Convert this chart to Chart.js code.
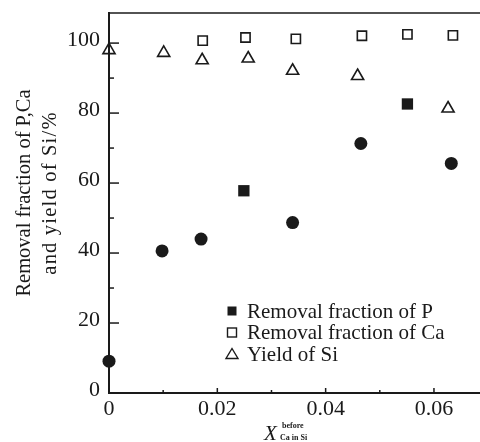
<!DOCTYPE html>
<html>
<head>
<meta charset="utf-8">
<script src="https://cdn.jsdelivr.net/npm/chart.js@4/dist/chart.umd.min.js"></script>
<style>
  html, body { margin: 0; padding: 0; background: #fff; }
  #wrap { width: 480px; height: 442px; }
</style>
</head>
<body>
<div id="wrap"><canvas id="goo" width="480" height="442"></canvas></div>
<script>
// data
const xP = [0.0249, 0.0551];
const yP = [57.8, 82.6];
const xPc = [0, 0.0098, 0.0170, 0.0339, 0.0465, 0.0632];
const yPc = [9.1, 40.6, 44.0, 48.7, 71.3, 65.6];
const xCa = [0.0173, 0.0252, 0.0345, 0.0467, 0.0551, 0.0635];
const yCa = [100.7, 101.6, 101.2, 102.1, 102.5, 102.2];
const xSi = [0, 0.0101, 0.0172, 0.0257, 0.0339, 0.0459, 0.0626];
const ySi = [98.0, 97.2, 95.1, 95.6, 92.1, 90.6, 81.3];

const xTicks = [0, 0.02, 0.04, 0.06];
const xMinor = [0.01, 0.03, 0.05];
const yTicks = [0, 20, 40, 60, 80, 100];
const yMinor = [10, 30, 50, 70, 90];

const legendNames = ['Removal fraction of P', 'Removal fraction of Ca', 'Yield of Si'];
const yTitle = ['Removal fraction of P,Ca', 'and yield of Si/%'];

const ink = '#1a1a1a';
const serif = '"Liberation Serif", "DejaVu Serif", serif';

function pts(xs, ys) {
    return xs.map(function(x, i) { return { x: x, y: ys[i] }; });
}

// inward ticks, top frame line, legend and axis titles
const decor = {
    id: 'decor',
    afterDraw: function(chart) {
        const ctx = chart.ctx;
        const a = chart.chartArea;
        const sx = chart.scales.x;
        const sy = chart.scales.y;
        ctx.save();
        ctx.strokeStyle = ink;
        ctx.lineWidth = 1.5;

        // top line
        ctx.beginPath();
        ctx.moveTo(a.left, a.top);
        ctx.lineTo(a.right, a.top);
        ctx.stroke();

        // y ticks
        yTicks.forEach(function(v) {
            let p = sy.getPixelForValue(v);
            ctx.beginPath(); ctx.moveTo(a.left, p); ctx.lineTo(a.left + 10, p); ctx.stroke();
        });
        yMinor.forEach(function(v) {
            let p = sy.getPixelForValue(v);
            ctx.beginPath(); ctx.moveTo(a.left, p); ctx.lineTo(a.left + 5, p); ctx.stroke();
        });
        // x ticks
        xTicks.forEach(function(v) {
            let p = sx.getPixelForValue(v);
            ctx.beginPath(); ctx.moveTo(p, a.bottom); ctx.lineTo(p, a.bottom - 5); ctx.stroke();
        });
        xMinor.forEach(function(v) {
            let p = sx.getPixelForValue(v);
            ctx.beginPath(); ctx.moveTo(p, a.bottom); ctx.lineTo(p, a.bottom - 3); ctx.stroke();
        });

        // legend
        let lx = 232, ly = 311, step = 21.5;
        ctx.font = '21px ' + serif;
        ctx.textBaseline = 'middle';
        ctx.textAlign = 'left';
        ctx.fillStyle = ink;
        legendNames.forEach(function(name, i) {
            let y = ly + i * step;
            ctx.lineWidth = 1.4;
            if (i == 0) {
                ctx.fillRect(lx - 4.5, y - 4.5, 9, 9);
            } else if (i == 1) {
                ctx.strokeRect(lx - 4.5, y - 4.5, 9, 9);
            } else {
                ctx.beginPath();
                ctx.moveTo(lx, y - 5.5);
                ctx.lineTo(lx + 6, y + 4.5);
                ctx.lineTo(lx - 6, y + 4.5);
                ctx.closePath();
                ctx.stroke();
            }
            ctx.fillText(name, 247, y + 1);
        });

        // y title
        ctx.save();
        ctx.translate(38, 193);
        ctx.rotate(-Math.PI / 2);
        ctx.textAlign = 'center';
        ctx.font = '20.5px ' + serif;
        ctx.fillText(yTitle[0], 0, -13);
        ctx.letterSpacing = '1.2px';
        ctx.fillText(yTitle[1], 0, 13);
        ctx.letterSpacing = '0px';
        ctx.restore();

        // x title
        ctx.textBaseline = 'alphabetic';
        ctx.font = 'italic 21px ' + serif;
        ctx.fillText('X', 264, 440);
        ctx.font = 'bold 8px ' + serif;
        ctx.fillText('before', 282, 428);
        ctx.fillText('Ca in Si', 280, 440);

        ctx.restore();
    }
};

const ctx = document.getElementById('goo').getContext('2d');
const goo = new Chart(ctx, {
    type: 'scatter',
    data: {
        datasets: [{
            label: legendNames[0],
            data: pts(xP, yP),
            pointStyle: 'rect',
            pointRadius: 8,
            backgroundColor: ink,
            borderColor: ink,
            borderWidth: 0,
            clip: false
        }, {
            label: legendNames[0] + ' (circles)',
            data: pts(xPc, yPc),
            pointStyle: 'circle',
            pointRadius: 6.5,
            backgroundColor: ink,
            borderColor: ink,
            borderWidth: 0,
            clip: false
        }, {
            label: legendNames[1],
            data: pts(xCa, yCa),
            pointStyle: 'rect',
            pointRadius: 6.5,
            backgroundColor: '#fff',
            borderColor: ink,
            borderWidth: 1.6,
            clip: false
        }, {
            label: legendNames[2],
            data: pts(xSi, ySi),
            pointStyle: 'triangle',
            pointRadius: 7,
            backgroundColor: 'rgba(255,255,255,0)',
            borderColor: ink,
            borderWidth: 1.6,
            clip: false
        }]
    },
    options: {
        responsive: false,
        animation: false,
        layout: { autoPadding: false, padding: { top: 13, right: 0, left: 0, bottom: 0 } },
        plugins: {
            legend: { display: false },
            tooltip: { enabled: false }
        },
        scales: {
            x: {
                type: 'linear',
                min: 0,
                max: 0.0685,
                afterFit: function(s) { s.height = 49; s.paddingLeft = 0; s.paddingRight = 0; },
                afterBuildTicks: function(s) { s.ticks = xTicks.map(function(v) { return { value: v }; }); },
                grid: { drawOnChartArea: false, drawTicks: false },
                border: { display: true, color: ink, width: 2 },
                ticks: {
                    color: ink,
                    padding: 3,
                    maxRotation: 0,
                    font: { family: serif, size: 22 },
                    callback: function(v) { return v === 0 ? '0' : v.toFixed(2); }
                }
            },
            y: {
                type: 'linear',
                min: 0,
                max: 108.6,
                afterFit: function(s) { s.width = 109; s.paddingTop = 0; s.paddingBottom = 0; },
                afterBuildTicks: function(s) { s.ticks = yTicks.map(function(v) { return { value: v }; }); },
                grid: { drawOnChartArea: false, drawTicks: false },
                border: { display: true, color: ink, width: 2 },
                ticks: {
                    color: ink,
                    padding: 9,
                    labelOffset: -3,
                    font: { family: serif, size: 22 }
                }
            }
        }
    },
    plugins: [decor]
});
</script>
</body>
</html>
